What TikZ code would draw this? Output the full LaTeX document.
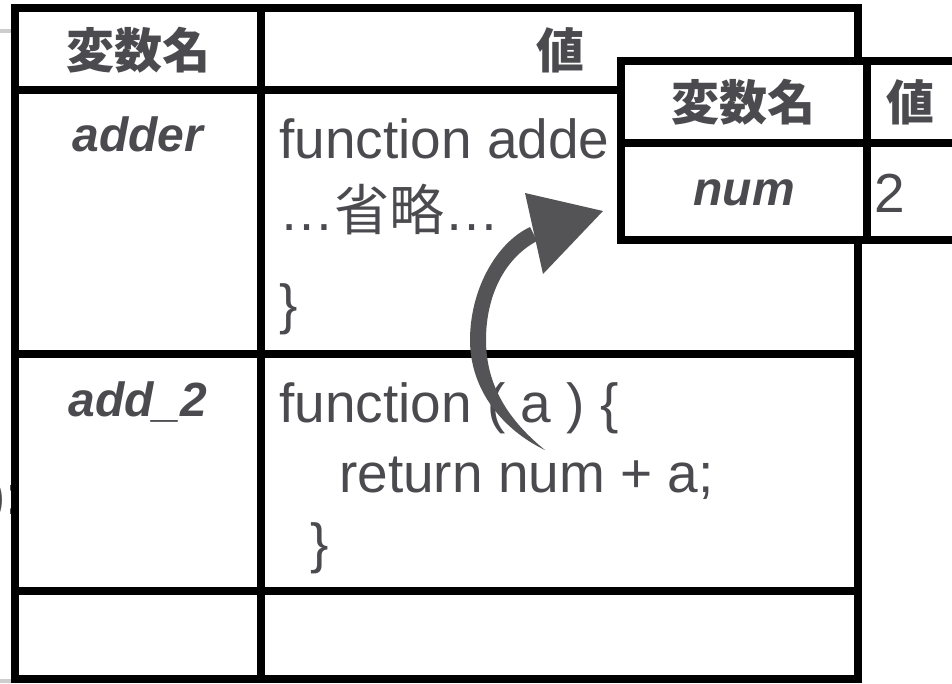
\documentclass[tikz,border=0pt]{standalone}
\usepackage{fontspec}
\setmainfont{Liberation Sans}
\newfontfamily\cjk{Noto Sans CJK JP}
\usetikzlibrary{calc}
\definecolor{ink}{RGB}{74,74,79}
\definecolor{brush}{RGB}{84,84,86}
\definecolor{faint}{RGB}{205,205,208}
\newcommand*{\hd}[1]{{\fontsize{48}{56}\selectfont\cjk\bfseries #1}}
\newcommand*{\nm}[1]{{\fontsize{48}{56}\selectfont\bfseries\itshape #1}}
\newcommand*{\cd}[1]{{\fontsize{55}{66}\selectfont #1}}
\tikzset{
  rule/.style={line width=8pt,black},
  txt/.style={inner sep=0pt,text=ink},
}

\begin{document}
\begin{tikzpicture}[x=1pt,y=-1pt]
\useasboundingbox (0,0) rectangle (952,683);

% Leftovers of the page behind
\draw[faint,line width=4pt] (0,31) -- (11,31);
\draw[faint,line width=4pt] (0,681) -- (11,681);
\node[txt,anchor=base west] (behind) at (-13,514) {\cd{):}};

% Main table
\coordinate (A) at (15,8);
\coordinate (B) at (858,8);
\coordinate (C) at (858,679);
\coordinate (D) at (15,679);
\coordinate (M1) at (261,8);
\coordinate (M2) at (261,679);
\coordinate (H1) at (15,90);
\coordinate (H2) at (858,90);
\coordinate (R1) at (15,354);
\coordinate (R2) at (858,354);
\coordinate (S1) at (15,591);
\coordinate (S2) at (858,591);

\draw[rule] (A) -- (B) -- (C) -- (D) -- cycle;
\draw[rule] (M1) -- (M2);
\draw[rule] (H1) -- (H2);
\draw[rule] (R1) -- (R2);
\draw[rule] (S1) -- (S2);

% Main table texts
\node[txt,anchor=base] (key) at (138,68) {\hd{変数名}};
\node[txt,anchor=base] (val) at (560,68) {\hd{値}};
\node[txt,anchor=base] (adder) at (138,151) {\nm{adder}};
\node[txt,anchor=base] (addtwo) at (138,416) {\nm{add\_2}};

\node[txt,anchor=base west] (fa) at (279,158) {\cd{function adde}};
\node[txt,anchor=base west] (fb) at (279,230) {\cd{…{\cjk 省略}…}};
\node[txt,anchor=base west] (fc) at (279,323) {\cd{\}}};
\node[txt,anchor=base west] (ga) at (279,422) {\cd{function ( a ) \{}};
\node[txt,anchor=base west] (gb) at (339,492) {\cd{return num + a;}};
\node[txt,anchor=base west] (gc) at (310,562) {\cd{\}}};

% Small table (on top)
\coordinate (P) at (621,61);
\coordinate (Q) at (962,61);
\coordinate (R) at (962,240);
\coordinate (S) at (621,240);
\coordinate (T1) at (867,61);
\coordinate (T2) at (867,240);
\coordinate (U1) at (621,143);
\coordinate (U2) at (962,143);

\draw[rule,fill=white] (P) -- (Q) -- (R) -- (S) -- cycle;
\draw[rule] (T1) -- (T2);
\draw[rule] (U1) -- (U2);

\node[txt,anchor=base] (skey) at (743,120) {\hd{変数名}};
\node[txt,anchor=base] (sval) at (910,120) {\hd{値}};
\node[txt,anchor=base] (num) at (744,205) {\nm{num}};
\node[txt,anchor=base west] (two) at (874,212) {\cd{2}};

% Brush arrow
\fill[brush] (545,450) .. controls (503,430) and (470,390) .. (470,340)
  .. controls (470,290) and (496,243) .. (530,227) -- (537,241)
  .. controls (505,258) and (486,295) .. (486,340)
  .. controls (486,385) and (508,420) .. cycle;
\fill[brush] (525,193) -- (603,211) -- (543,274) -- cycle;
\end{tikzpicture}
\end{document}
